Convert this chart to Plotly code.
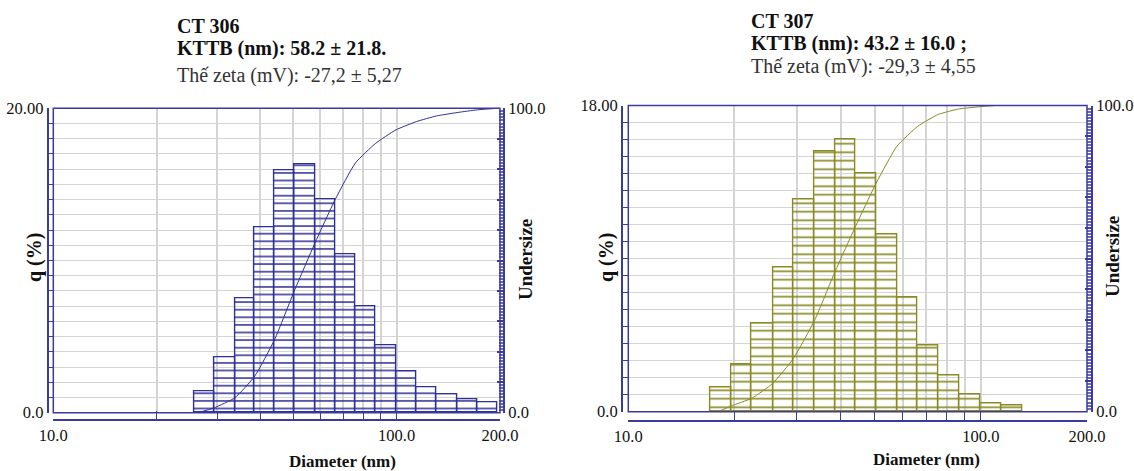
import numpy as np
import plotly.graph_objects as go

# ---------------- data ----------------
# CT 306
edges_306 = [25.7, 29.4, 33.8, 38.6, 44.1, 50.5, 57.8, 66.2, 75.8, 86.9, 99.5,
             114.0, 130.8, 150.0, 171.9, 196.6]
q_306 = [1.4, 3.65, 7.5, 12.2, 15.9, 16.3, 14.0, 10.4, 7.0, 4.4, 2.7, 1.7, 1.2, 0.9, 0.7]
und_x_306 = [26.4, 29.4, 33.8, 38.6, 44.1, 50.5, 57.8, 66.2, 75.8, 86.9, 99.5,
             114.0, 130.8, 150.0, 171.9, 196.6]
und_y_306 = [0.0, 1.6, 4.9, 12.0, 24.0, 40.4, 55.7, 70.0, 82.0, 88.5, 92.9,
             95.6, 97.5, 98.6, 99.5, 100.0]

# CT 307
edges_307 = [17.1, 19.6, 22.4, 25.7, 29.4, 33.8, 38.6, 44.1, 50.5, 57.8, 66.2,
             75.8, 86.9, 99.5, 114.0, 130.8]
q_307 = [1.4, 2.8, 5.2, 8.5, 12.5, 15.3, 16.0, 14.0, 10.4, 6.7, 3.9, 2.1, 1.0, 0.5, 0.35]
und_x_307 = [18.0, 19.6, 22.4, 25.7, 29.4, 33.8, 38.6, 44.1, 50.5, 57.8, 66.2,
             75.8, 86.9, 99.5, 110.0]
und_y_307 = [0.0, 1.9, 4.4, 9.3, 17.4, 30.0, 45.8, 60.5, 74.7, 86.7, 93.2,
             97.1, 98.9, 99.6, 100.0]

x_tick_vals = [10, 100, 200]
x_tick_text = ["10.0", "100.0", "200.0"]
x_minor_vals = [20, 30, 40, 50, 60, 70, 80, 90]

titles_306 = ["<b>CT 306</b>", "<b>KTTB (nm): 58.2 ± 21.8.</b>", "Thế zeta (mV): -27,2 ± 5,27"]
titles_307 = ["<b>CT 307</b>", "<b>KTTB (nm): 43.2 ± 16.0 ;</b>", "Thế zeta (mV): -29,3 ± 4,55"]

# ---------------- styling ----------------
W, H = 1134, 471
FONT = "Liberation Serif"
BLUE = "#2f2f98"
FRAME = "#3b3b9e"
OLIVE = "#8a8a24"
GRID = "#d4d4d4"


def bars(edges, q, color, xa, ya, hatch):
    le = np.log10(np.array(edges, dtype=float))
    centers = (le[:-1] + le[1:]) / 2
    widths = le[1:] - le[:-1]
    return go.Bar(
        x=centers, y=q, width=widths, xaxis=xa, yaxis=ya,
        marker=dict(color="rgba(0,0,0,0)",
                    line=dict(color=color, width=1.4),
                    pattern=dict(shape="-", fgcolor=color, bgcolor="rgba(0,0,0,0)",
                                 size=hatch, solidity=0.2, fillmode="replace")),
        showlegend=False, hoverinfo="skip")


def curve(xs, ys, color, xa, ya):
    return go.Scatter(x=np.log10(np.array(xs, dtype=float)), y=ys, mode="lines",
                      line=dict(color=color, width=1, shape="spline", smoothing=0.5),
                      xaxis=xa, yaxis=ya, showlegend=False, hoverinfo="skip")


fig = go.Figure()
fig.add_trace(bars(edges_306, q_306, BLUE, "x", "y", 7.6))
fig.add_trace(curve(und_x_306, und_y_306, BLUE, "x", "y3"))
fig.add_trace(bars(edges_307, q_307, OLIVE, "x2", "y2", 8.5))
fig.add_trace(curve(und_x_307, und_y_307, OLIVE, "x2", "y4"))

tickfont = dict(family=FONT, size=16.5, color="#111")


def xaxis(dom, pos):
    return dict(domain=dom, range=[1, np.log10(200)], anchor="free", position=pos,
                automargin=False,
                showline=True, linecolor=FRAME, linewidth=2,
                tickmode="array", tickvals=list(np.log10(x_tick_vals)), ticktext=x_tick_text,
                ticks="inside", ticklen=8, tickcolor=FRAME, tickfont=tickfont,
                showgrid=True, gridcolor=GRID, gridwidth=1.5, zeroline=False,
                minor=dict(tickmode="array", tickvals=list(np.log10(x_minor_vals)),
                           ticks="inside", ticklen=8, tickcolor=FRAME,
                           showgrid=True, gridcolor=GRID, gridwidth=1.5),
                fixedrange=True)


def yaxis(dom, pos, top, toptext):
    return dict(domain=dom, range=[0, top], anchor="free", position=pos,
                automargin=False,
                showline=True, linecolor=FRAME, linewidth=2,
                tickmode="array", tickvals=[0, top], ticktext=["0.0", toptext],
                ticks="inside", ticklen=6, tickcolor=FRAME, tickfont=tickfont,
                showgrid=False, zeroline=False,
                minor=dict(dtick=1, tick0=0, ticks="inside", ticklen=5, tickcolor=FRAME,
                           showgrid=True, gridcolor=GRID, gridwidth=1),
                fixedrange=True)


def yright(over, dom, pos):
    return dict(overlaying=over, side="right", domain=dom, range=[0, 100],
                anchor="free", position=pos, automargin=False,
                showline=True, linecolor=FRAME, linewidth=2,
                tickmode="array", tickvals=list(range(0, 101, 10)),
                ticktext=["0.0"] + [""] * 9 + ["100.0"],
                ticks="inside", ticklen=6, tickwidth=2, tickcolor=FRAME, tickfont=tickfont,
                showgrid=False, zeroline=False,
                minor=dict(dtick=1, tick0=0, ticks="inside", ticklen=4, tickcolor="#6a6ab8"),
                fixedrange=True)


ydom_l = [(H - 412.7) / H, (H - 108.3) / H]
ydom_r = [(H - 411.7) / H, (H - 105.5) / H]

fig.update_layout(
    width=W, height=H, margin=dict(l=0, r=0, t=0, b=0, autoexpand=False),
    paper_bgcolor="white", plot_bgcolor="white",
    bargap=0, barmode="overlay",
    xaxis=xaxis([53.3 / W, 500 / W], (H - 420) / H),
    yaxis=yaxis(ydom_l, 47.7 / W, 20, "20.00"),
    yaxis3=yright("y", ydom_l, 504 / W),
    xaxis2=xaxis([628.3 / W, 1087 / W], (H - 420.7) / H),
    yaxis2=yaxis(ydom_r, 622 / W, 18, "18.00"),
    yaxis4=yright("y2", ydom_r, 1092 / W),
    font=dict(family=FONT, color="#111"),
)

# data-box frames
for xr, yr in (("x domain", "y domain"), ("x2 domain", "y2 domain")):
    fig.add_shape(type="rect", xref=xr, yref=yr, x0=0, x1=1, y0=0, y1=1,
                  line=dict(color=FRAME, width=1.5), layer="above")

ann = []
for i, (t, y) in enumerate(zip(titles_306, [25.7, 49, 75.7])):
    ann.append(dict(text=t, x=175 / W, y=1 - y / H, xanchor="left", yanchor="middle",
                    font=dict(size=20, color="#111" if i < 2 else "#333")))
for i, (t, y) in enumerate(zip(titles_307, [20.7, 43.3, 66.7])):
    ann.append(dict(text=t, x=749 / W, y=1 - y / H, xanchor="left", yanchor="middle",
                    font=dict(size=20, color="#111" if i < 2 else "#333")))

for (txt, x, y, ang, sz) in [("<b>q (%)</b>", 34, 258, -90, 20), ("<b>q (%)</b>", 606, 258, -90, 20),
                             ("<b>Undersize</b>", 525, 260, -90, 19), ("<b>Undersize</b>", 1112, 257, -90, 19),
                             ("<b>Diameter (nm)</b>", 342, 461, 0, 17), ("<b>Diameter (nm)</b>", 926, 459, 0, 17)]:
    ann.append(dict(text=txt, x=x / W, y=1 - y / H, xanchor="center", yanchor="middle",
                    textangle=ang, font=dict(size=sz, color="#111")))

for a in ann:
    a.update(xref="paper", yref="paper", showarrow=False)
fig.update_layout(annotations=ann)

fig.write_html(
    "out.html",
    config={"displayModeBar": False},
    post_script="document.body.style.margin='0';document.body.style.overflow='hidden';"
)
